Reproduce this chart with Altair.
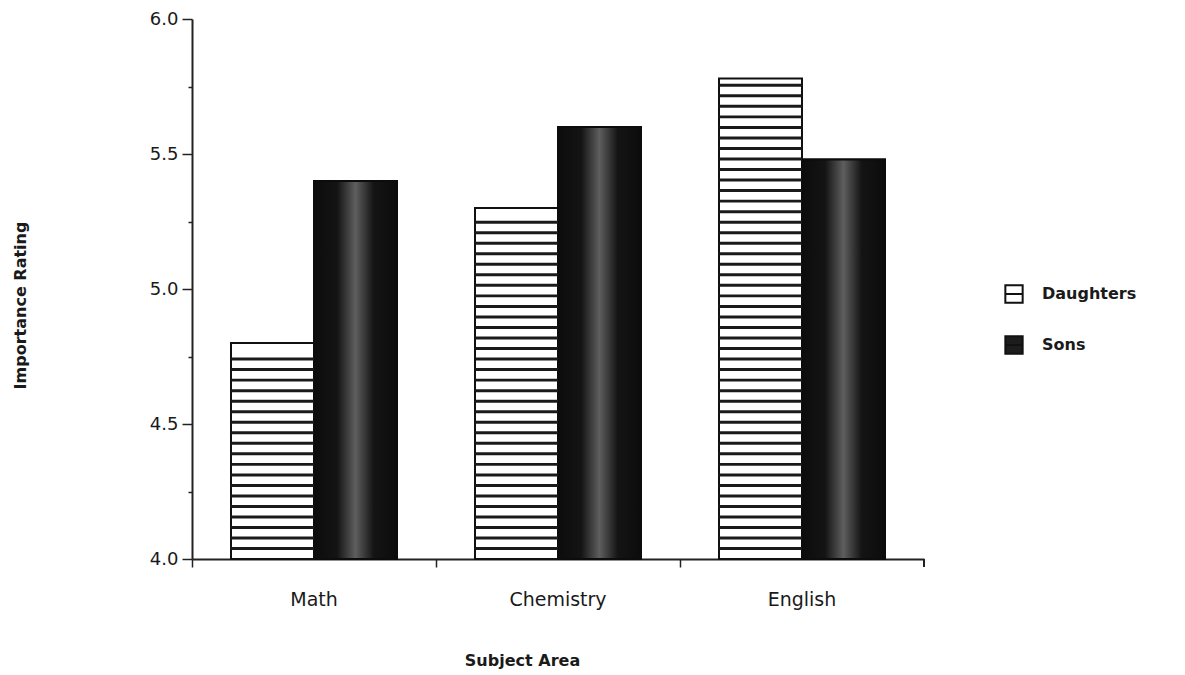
import altair as alt
import pandas as pd

subjects = ["Math", "Chemistry", "English"]
groups = ["Daughters", "Sons"]
daughters = [4.8, 5.3, 5.78]
sons = [5.4, 5.6, 5.48]
y_ticks = [4.0, 4.25, 4.5, 4.75, 5.0, 5.25, 5.5, 5.75, 6.0]

rows = []
for s, d, n in zip(subjects, daughters, sons):
    rows.append({"Subject": s, "Group": "Daughters", "Rating": d})
    rows.append({"Subject": s, "Group": "Sons", "Rating": n})
df = pd.DataFrame(rows)

# horizontal hatch texture for the Daughters bars (decoration only)
stripe_step = 0.039
stripe_rows = []
for s, d in zip(subjects, daughters):
    k = 1
    while 4.0 + k * stripe_step < d - 0.02:
        y0 = 4.0 + k * stripe_step - 0.006
        stripe_rows.append({"Subject": s, "Group": "Daughters", "y0": y0, "y1": y0 + 0.011})
        k += 1
stripes = pd.DataFrame(stripe_rows)

W, H = 732, 540
FONT = "DejaVu Sans"

xscale = alt.Scale(domain=subjects, paddingInner=0, paddingOuter=0)
oscale = alt.Scale(domain=groups, paddingInner=0, paddingOuter=0.47)
yscale = alt.Scale(domain=[4.0, 6.0], nice=False, zero=False)

x_enc = alt.X("Subject:N", scale=xscale, sort=subjects,
              axis=alt.Axis(title="Subject Area", bandPosition=0,
                            labelAngle=0, labelFontSize=19, labelFont=FONT, labelColor="#1a1a1a",
                            labelPadding=23, tickSize=8, tickWidth=1.5, tickColor="#222",
                            domainColor="#222", domainWidth=2,
                            titleFont=FONT, titleFontSize=16, titleFontWeight="bold",
                            titleColor="#1a1a1a", titleX=330, titleY=101,
                            titleBaseline="middle", titleAlign="center"))
y_axis = alt.Axis(title="Importance Rating", values=y_ticks,
                  labelExpr="datum.value % 0.5 == 0 ? format(datum.value, '.1f') : ''",
                  tickSize={"condition": {"test": "datum.value % 0.5 == 0", "value": 10}, "value": 4},
                  tickWidth=1.5, tickColor="#222", domainColor="#222", domainWidth=2,
                  labelFontSize=18, labelFont=FONT, labelColor="#1a1a1a", labelPadding=4,
                  grid=False, titleFont=FONT, titleFontSize=16, titleFontWeight="bold",
                  titleColor="#1a1a1a", titleAngle=-90, titleX=-172, titleY=286,
                  titleAlign="center", titleBaseline="middle")

bars = alt.Chart(df).mark_bar(stroke="#111", strokeWidth=2).encode(
    x=x_enc,
    xOffset=alt.XOffset("Group:N", scale=oscale, sort=groups),
    y=alt.Y("Rating:Q", scale=yscale, axis=y_axis),
    y2=alt.Y2(datum=4.0),
    fill=alt.Fill("Group:N", scale=alt.Scale(domain=groups, range=["white", "#1c1c1c"]),
                  legend=alt.Legend(title=None, orient="none", legendX=812, legendY=265,
                                    symbolType="M-1,-1L1,-1L1,1L-1,1Z M-1,0L1,0",
                                    symbolSize=300,
                                    symbolStrokeColor="#111", symbolStrokeWidth=2,
                                    labelFont=FONT, labelFontSize=16, labelFontWeight="bold",
                                    labelColor="#1a1a1a", labelOffset=18, rowPadding=25)),
)

grad = alt.Gradient(gradient="linear", x1=0, x2=1, y1=0, y2=0, stops=[
    alt.GradientStop(color="#0c0c0c", offset=0),
    alt.GradientStop(color="#141414", offset=0.28),
    alt.GradientStop(color="#5e5e5e", offset=0.5),
    alt.GradientStop(color="#141414", offset=0.72),
    alt.GradientStop(color="#0c0c0c", offset=1),
])
sons_bars = alt.Chart(df).transform_filter("datum.Group == 'Sons'").mark_bar(
    fill=grad, stroke="#0c0c0c", strokeWidth=2).encode(
    x=alt.X("Subject:N", scale=xscale, sort=subjects),
    xOffset=alt.XOffset("Group:N", scale=oscale, sort=groups),
    y=alt.Y("Rating:Q", scale=yscale),
    y2=alt.Y2(datum=4.0),
)

stripe_layer = alt.Chart(stripes).mark_bar(color="#1a1a1a").encode(
    x=alt.X("Subject:N", scale=xscale, sort=subjects),
    xOffset=alt.XOffset("Group:N", scale=oscale, sort=groups),
    y=alt.Y("y0:Q", scale=yscale),
    y2="y1:Q",
)

end_tick = alt.Chart(df).mark_rule(color="#222", strokeWidth=1.5).encode(
    x=alt.value(W), y=alt.value(H), y2=alt.value(H + 8))

chart = alt.layer(bars, sons_bars, stripe_layer, end_tick).properties(
    width=W, height=H,
    padding={"left": 184, "top": 11, "right": 253, "bottom": 116},
    autosize=alt.AutoSizeParams(type="none"),
).configure(font=FONT).configure_view(strokeWidth=0, stroke="transparent")

chart.save("out.html", embed_options={"renderer": "svg", "actions": False})
